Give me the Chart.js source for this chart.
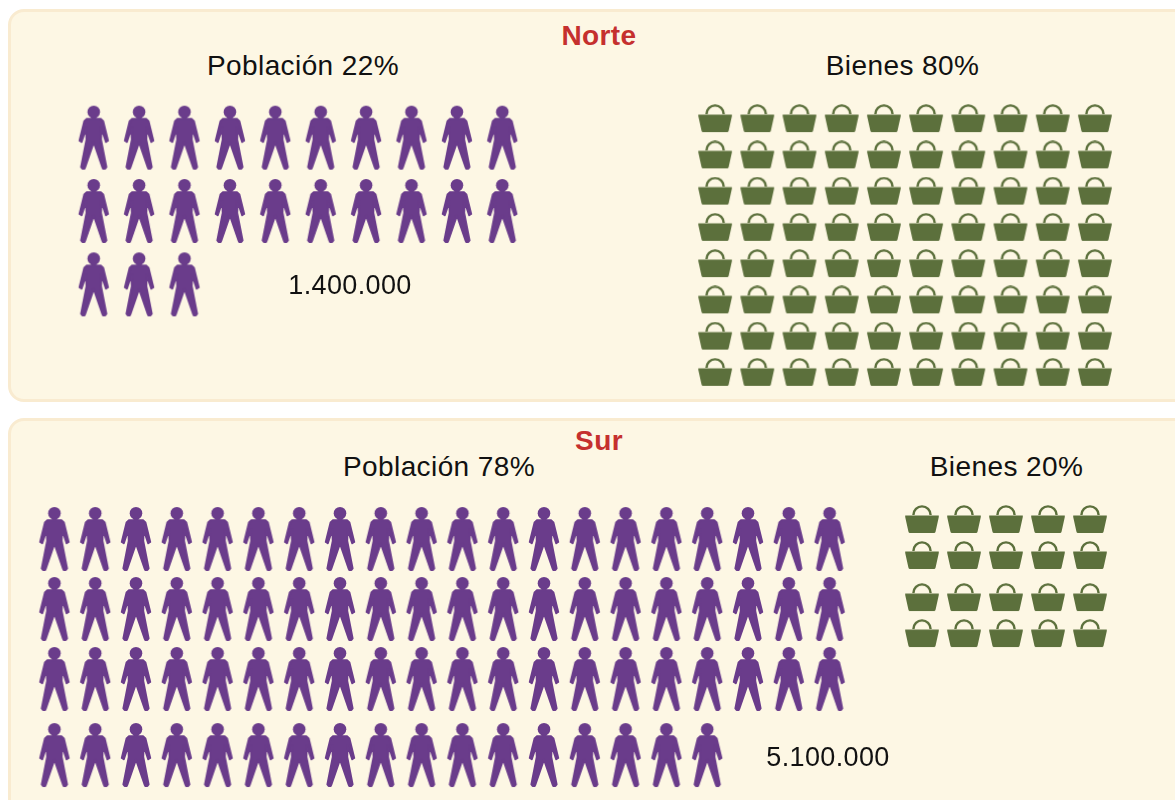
<!DOCTYPE html>
<html lang="es">
<head>
<meta charset="utf-8">
<title>Norte y Sur</title>
<script src="https://cdn.jsdelivr.net/npm/chart.js@4"></script>
<style>
  html, body { margin: 0; padding: 0; background: #fff; }
  body { position: relative; width: 1175px; height: 800px; overflow: hidden; font-family: "Liberation Sans", sans-serif; }
  .panel { position: absolute; box-sizing: border-box; left: 8px; width: 1190px; background: #fdf7e4; border: 3px solid #f9ebd0; border-radius: 16px; }
  .label { position: absolute; white-space: nowrap; transform: translateX(-50%); color: #111; font-size: 28px; line-height: 30px; letter-spacing: 0.4px; }
  .number { font-size: 27px; letter-spacing: 0.35px; }
  .region { color: #c5302e; font-weight: bold; letter-spacing: 0.4px; }
  canvas { position: absolute; }
</style>
</head>
<body>
<div class="panel" style="top:9px;height:393px"></div>
<div class="panel" style="top:418px;height:400px"></div>
<script>
// icons per row, one icon = one unit of the share
const nortePoblacion = [10, 10, 3];
const norteBienes = [10, 10, 10, 10, 10, 10, 10, 10];
const surPoblacion = [20, 20, 20, 17];
const surBienes = [5, 5, 5, 5];

const regiones = ["Norte", "Sur"];
const poblacionPct = [22, 78];
const bienesPct = [80, 20];
const habitantes = ["1.400.000", "5.100.000"];

const PURPLE = "#6a3c8b";
const GREEN = "#5c703c";

const makeIcon = (w, h, draw) => {
  const c = document.createElement("canvas");
  c.width = w;
  c.height = h;
  const ctx = c.getContext("2d");
  ctx.translate(w / 2, 0);
  draw(ctx);
  return c;
};

// right half of the figure, mirrored for the left
const personOutline = [
  [7, 14.3], [9.4, 16.5], [14.2, 36], [12.2, 37.2], [7.6, 23.5], [7.2, 35],
  [12.6, 62.5], [11.4, 64], [9.4, 64], [8.6, 62.5], [0, 37.5],
];

const personIcon = makeIcon(36, 66, (ctx) => {
  ctx.fillStyle = PURPLE;
  ctx.strokeStyle = PURPLE;
  ctx.lineJoin = "round";
  ctx.lineWidth = 2;
  ctx.beginPath();
  ctx.arc(0, 7.3, 6.3, 0, Math.PI * 2);
  ctx.fill();
  ctx.fillRect(-2.5, 11, 5, 5);
  ctx.beginPath();
  personOutline.forEach(([x, y], i) => (i ? ctx.lineTo(x, y) : ctx.moveTo(x, y)));
  [...personOutline].reverse().forEach(([x, y]) => ctx.lineTo(-x, y));
  ctx.closePath();
  ctx.fill();
  ctx.stroke();
});

const basketIcon = makeIcon(36, 30, (ctx) => {
  ctx.fillStyle = GREEN;
  ctx.strokeStyle = GREEN;
  ctx.lineWidth = 2.4;
  ctx.beginPath();
  ctx.arc(0, 10, 8.6, Math.PI, 0);
  ctx.stroke();
  ctx.lineJoin = "round";
  ctx.beginPath();
  ctx.moveTo(-16.8, 10.4);
  ctx.lineTo(16.8, 10.4);
  ctx.lineTo(16.8, 12);
  ctx.lineTo(13.6, 26.5);
  ctx.quadraticCurveTo(13.3, 28, 12, 28);
  ctx.lineTo(-12, 28);
  ctx.quadraticCurveTo(-13.3, 28, -13.6, 26.5);
  ctx.lineTo(-16.8, 12);
  ctx.closePath();
  ctx.fill();
});

// rowAt: where each row sits, in row units (the gaps are not even in the original)
const drawPictogram = (rows, icon, left, top, colStep, rowStep, rowAt) => {
  const cols = Math.max(...rows);
  const lastRow = rowAt[rowAt.length - 1];
  const canvas = document.createElement("canvas");
  canvas.width = cols * colStep;
  canvas.height = (lastRow + 1) * rowStep;
  canvas.style.left = left - colStep / 2 + "px";
  canvas.style.top = top - rowStep / 2 + "px";
  document.body.appendChild(canvas);

  const points = [];
  rows.forEach((count, r) => {
    for (let c = 0; c < count; c++) {
      points.push({ x: c, y: rowAt[r] });
    }
  });

  new Chart(canvas, {
    type: "scatter",
    data: { datasets: [{ data: points, pointStyle: icon, clip: false }] },
    options: {
      responsive: false,
      animation: false,
      events: [],
      layout: { padding: 0, autoPadding: false },
      plugins: { legend: { display: false }, tooltip: { enabled: false } },
      scales: {
        x: { display: false, min: -0.5, max: cols - 0.5 },
        y: { display: false, reverse: true, min: -0.5, max: lastRow + 0.5 },
      },
    },
  });
};

const addLabel = (text, x, y, extra) => {
  const el = document.createElement("div");
  el.className = "label" + (extra ? " " + extra : "");
  el.textContent = text;
  el.style.left = x + "px";
  el.style.top = y + "px";
  document.body.appendChild(el);
};

drawPictogram(nortePoblacion, personIcon, 93.5, 138, 45.4, 73.6, [0, 1, 2]);
drawPictogram(norteBienes, basketIcon, 715.5, 119, 42.2, 36.3, [0, 1, 2, 3, 4, 5, 6, 7]);
drawPictogram(surPoblacion, personIcon, 54.5, 539, 40.8, 70, [0, 1, 2, 3.086]);
drawPictogram(surBienes, basketIcon, 922, 520, 42, 36, [0, 1, 2.17, 3.17]);

addLabel(regiones[0], 599, 21, "region");
addLabel(`Población ${poblacionPct[0]}%`, 303, 51);
addLabel(`Bienes ${bienesPct[0]}%`, 902.5, 51);
addLabel(habitantes[0], 350, 270, "number");

addLabel(regiones[1], 599, 426, "region");
addLabel(`Población ${poblacionPct[1]}%`, 439, 452);
addLabel(`Bienes ${bienesPct[1]}%`, 1006.5, 452);
addLabel(habitantes[1], 828, 742, "number");
</script>
</body>
</html>
